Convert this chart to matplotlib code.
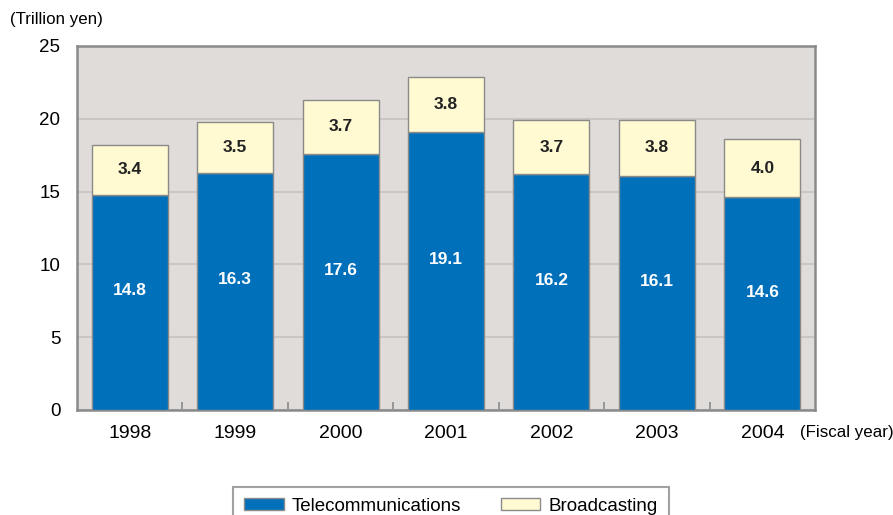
import numpy as np
import matplotlib
matplotlib.use("Agg")
import matplotlib.pyplot as plt
from matplotlib.patches import Patch

plt.rcParams['font.family'] = ['Liberation Sans', 'DejaVu Sans']

years = ["1998", "1999", "2000", "2001", "2002", "2003", "2004"]
telecom = [14.8, 16.3, 17.6, 19.1, 16.2, 16.1, 14.6]
broadcast = [3.4, 3.5, 3.7, 3.8, 3.7, 3.8, 4.0]

blue = "#0070bb"
yellow = "#fffad2"
bg = "#e0dcd9"
edge = "#8a8a8a"

fig = plt.figure(figsize=(8.93, 5.15), dpi=100)
ax = fig.add_axes([0.0862, 0.2039, 0.8265, 0.7068])
ax.set_facecolor(bg)

x = np.arange(len(years))
w = 0.72
ax.bar(x, telecom, w, color=blue, edgecolor=edge, linewidth=1, zorder=3)
ax.bar(x, broadcast, w, bottom=telecom, color=yellow, edgecolor=edge, linewidth=1, zorder=3)

# labels in the blue part sit a little above the middle
for xi, t, b in zip(x, telecom, broadcast):
    ax.text(xi, t / 2 + 0.8, f"{t:.1f}", ha="center", va="center", color="white",
            fontsize=12.5, fontweight="bold", zorder=4)
    ax.text(xi, t + b / 2, f"{b:.1f}", ha="center", va="center", color="#222222",
            fontsize=12.5, fontweight="bold", zorder=4)

ax.set_xlim(-0.5, len(years) - 0.5)
ax.set_ylim(0, 25)
ax.set_yticks([0, 5, 10, 15, 20, 25])
ax.yaxis.grid(True, color="#cac6c3", linewidth=1.5, zorder=1)
ax.set_axisbelow(True)
ax.tick_params(axis="y", length=0, labelsize=13.5, pad=12)
ax.set_xticks(x)
ax.set_xticklabels(years)
ax.tick_params(axis="x", length=0, labelsize=14, pad=11)
ax.set_xticks(np.arange(0.5, len(years) - 1, 1), minor=True)
ax.tick_params(axis="x", which="minor", direction="in", length=6, color=edge, width=1.2)

for s in ax.spines.values():
    s.set_color(edge)
    s.set_linewidth(1.8)

fig.text(0.011, 0.962, "(Trillion yen)", fontsize=12.2, ha="left", va="center")
fig.text(0.896, 0.160, "(Fiscal year)", fontsize=12.2, ha="left", va="center")

handles = [Patch(facecolor=blue, edgecolor=edge, label="Telecommunications"),
           Patch(facecolor=yellow, edgecolor=edge, label="Broadcasting")]
leg = fig.legend(handles=handles, loc="lower center", bbox_to_anchor=(0.505, -0.04),
                 ncol=2, frameon=True, fancybox=False, fontsize=13.5,
                 handlelength=2.1, handleheight=0.6, columnspacing=2.1,
                 borderpad=0.6, handletextpad=0.45, borderaxespad=0.5)
leg.get_frame().set_edgecolor(edge)
leg.get_frame().set_linewidth(1.5)

fig.savefig("out.png", dpi=100)
